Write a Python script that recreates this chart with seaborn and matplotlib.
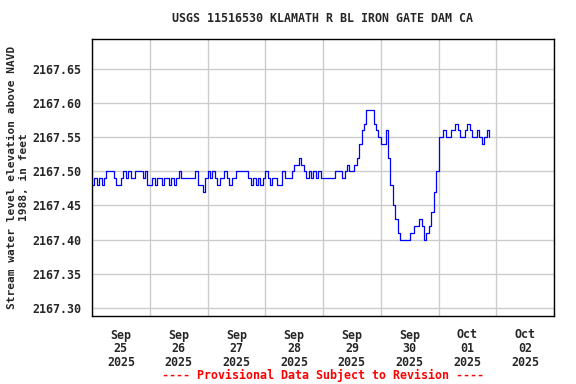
import matplotlib
matplotlib.use("Agg")
import matplotlib.pyplot as plt
import matplotlib.dates as mdates
from matplotlib.ticker import FormatStrFormatter, MultipleLocator
import numpy as np
import pandas as pd
import seaborn as sns

# =====================================================
# DATA (hourly readings, feet above NAVD 1988)
# =====================================================

site_title = "USGS 11516530 KLAMATH R BL IRON GATE DAM CA"
y_label = "Stream water level elevation above NAVD\n1988, in feet"
footer = "---- Provisional Data Subject to Revision ----"

sep25 = [2167.48, 2167.49, 2167.48, 2167.49, 2167.48, 2167.49, 2167.50, 2167.50,
         2167.50, 2167.49, 2167.48, 2167.48, 2167.49, 2167.50, 2167.49, 2167.50,
         2167.49, 2167.49, 2167.50, 2167.50, 2167.50, 2167.49, 2167.50, 2167.48]
sep26 = [2167.48, 2167.49, 2167.48, 2167.49, 2167.49, 2167.48, 2167.49, 2167.49,
         2167.48, 2167.49, 2167.48, 2167.49, 2167.50, 2167.49, 2167.49, 2167.49,
         2167.49, 2167.49, 2167.49, 2167.50, 2167.48, 2167.48, 2167.47, 2167.49]
sep27 = [2167.50, 2167.49, 2167.50, 2167.49, 2167.48, 2167.49, 2167.49, 2167.50,
         2167.49, 2167.48, 2167.49, 2167.49, 2167.50, 2167.50, 2167.50, 2167.50,
         2167.50, 2167.49, 2167.48, 2167.49, 2167.48, 2167.49, 2167.48, 2167.49]
sep28 = [2167.50, 2167.49, 2167.48, 2167.49, 2167.49, 2167.48, 2167.48, 2167.50,
         2167.49, 2167.49, 2167.49, 2167.50, 2167.51, 2167.51, 2167.52, 2167.51,
         2167.50, 2167.49, 2167.50, 2167.49, 2167.50, 2167.49, 2167.50, 2167.49]
sep29 = [2167.49, 2167.49, 2167.49, 2167.49, 2167.49, 2167.50, 2167.50, 2167.50,
         2167.49, 2167.50, 2167.51, 2167.50, 2167.50, 2167.51, 2167.52, 2167.54,
         2167.56, 2167.57, 2167.59, 2167.59, 2167.59, 2167.57, 2167.56, 2167.55]
sep30 = [2167.54, 2167.54, 2167.56, 2167.52, 2167.48, 2167.45, 2167.43, 2167.41,
         2167.40, 2167.40, 2167.40, 2167.40, 2167.41, 2167.41, 2167.42, 2167.42,
         2167.43, 2167.42, 2167.40, 2167.41, 2167.42, 2167.44, 2167.47, 2167.50]
oct01 = [2167.55, 2167.55, 2167.56, 2167.55, 2167.55, 2167.56, 2167.56, 2167.57,
         2167.56, 2167.55, 2167.55, 2167.56, 2167.57, 2167.56, 2167.55, 2167.55,
         2167.56, 2167.55, 2167.54, 2167.55, 2167.56, 2167.55]

levels = sep25 + sep26 + sep27 + sep28 + sep29 + sep30 + oct01
times = pd.date_range("2025-09-25 00:00", periods=len(levels), freq="h")
df = pd.DataFrame({"time": times, "level": levels})

# =====================================================
# PLOT
# =====================================================

FS = 8.4

sns.set_theme(style="whitegrid")
plt.rcParams["font.family"] = ["DejaVu Sans Mono"]
plt.rcParams["font.weight"] = "bold"
plt.rcParams["font.size"] = FS
plt.rcParams["xtick.labelsize"] = FS
plt.rcParams["ytick.labelsize"] = FS
plt.rcParams["axes.labelsize"] = FS

fig = plt.figure(figsize=(5.76, 3.84), dpi=100)
ax = fig.add_axes([92 / 576, 1 - 316 / 384, 462 / 576, 277 / 384])

sns.lineplot(data=df, x="time", y="level", ax=ax, color="#0000ff",
             linewidth=0.9, drawstyle="steps-post")

ax.set_xlim(pd.Timestamp("2025-09-25"), pd.Timestamp("2025-10-03"))
ax.set_ylim(2167.288, 2167.694)

ax.yaxis.set_major_locator(MultipleLocator(0.05))
ax.yaxis.set_major_formatter(FormatStrFormatter("%.2f"))

ax.xaxis.set_major_locator(mdates.DayLocator())
ax.xaxis.set_major_formatter(plt.NullFormatter())
ax.xaxis.set_minor_locator(mdates.HourLocator(byhour=12))
ax.xaxis.set_minor_formatter(mdates.DateFormatter("%b\n%d\n%Y"))

ax.grid(True, which="major", color="#cccccc", linewidth=1.0)
ax.grid(False, which="minor")
ax.tick_params(axis="x", which="both", length=0, pad=9, labelsize=FS)
ax.tick_params(axis="y", length=0, pad=8, labelsize=FS)
for lbl in ax.get_xticklabels(minor=True):
    lbl.set_linespacing(1.1)
    lbl.set_fontweight("bold")
for lbl in ax.get_yticklabels():
    lbl.set_fontweight("bold")

for spine in ax.spines.values():
    spine.set_edgecolor("black")
    spine.set_linewidth(1.0)

ax.set_xlabel("")
ax.set_ylabel("")

# y label placed by hand so it fits the narrow left margin
fig.text(18 / 576, 1 - 177 / 384, y_label, rotation=90, ha="center",
         va="center", fontweight="bold", fontsize=8.0, linespacing=1.15)
fig.text(323 / 576, 1 - 19 / 384, site_title, ha="center", va="center",
         fontweight="bold", fontsize=FS)
fig.text(323 / 576, 1 - 375 / 384, footer, ha="center", va="center",
         color="red", fontweight="bold", fontsize=FS)

fig.savefig("out.png", dpi=100)
plt.close(fig)
